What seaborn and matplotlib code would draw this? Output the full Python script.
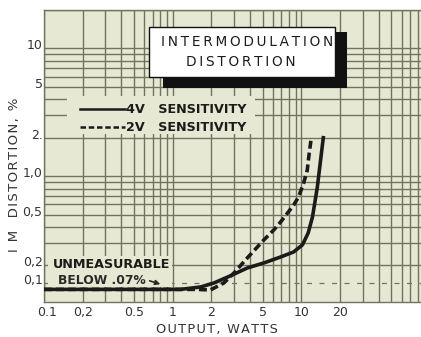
import numpy as np
import pandas as pd
import matplotlib
matplotlib.use("Agg")
import matplotlib.pyplot as plt
import seaborn as sns
from matplotlib.patches import Rectangle
from matplotlib.ticker import NullLocator
from matplotlib.transforms import ScaledTranslation

# Output power (W) against intermodulation distortion (%) for the two sensitivity settings
watts_4v = [0.1, 1.15, 1.65, 2.1, 2.8, 3.8, 5.1, 6.9, 8.7, 10.2, 11.3, 12.2, 13.3, 14.0, 14.8]
imd_4v = [0.07, 0.07, 0.08, 0.10, 0.132, 0.181, 0.209, 0.233, 0.255, 0.29, 0.36, 0.48, 0.82, 1.26, 2.0]
watts_2v = [0.1, 1.5, 1.97, 2.5, 3.0, 3.8, 5.1, 6.1, 6.9, 7.8, 8.7, 9.5, 10.4, 11.1, 11.5, 11.9]
imd_2v = [0.07, 0.07, 0.068, 0.10, 0.149, 0.229, 0.316, 0.379, 0.438, 0.514, 0.593, 0.686, 0.88, 1.11, 1.51, 1.95]

series_labels = ["4V   SENSITIVITY", "2V   SENSITIVITY"]
x_ticks = [0.1, 0.2, 0.5, 1, 2, 5, 10, 20]
x_tick_labels = ["0.1", "0,2", "0.5", "1", "2", "5", "10", "20"]
y_ticks = [0.1, 0.2, 0.5, 1, 2, 5, 10]
y_tick_labels = ["0,1", "0,2", "0,5", "1,0", "2.", "5", "10"]

paper = "#e6e8d3"
rule = "#71735f"
ink = "#1b1b19"
label_ink = "#333330"

HAIR = "\u200a"
THIN = "\u2009"


def tracked(text, sep):
    """Spread capitals apart like hand lettering."""
    return sep.join(text)


# Log paper above 0.2 %; the range below is squeezed into the bottom strip.
_brk_log = np.array([-3.0, np.log10(0.07), -1.0, np.log10(0.2), 3.0])
_brk_pos = np.array([-1.492, -0.8865, -0.8357, np.log10(0.2), 3.0])


def fwd(v):
    v = np.clip(np.asarray(v, dtype=float), 1e-3, 1e3)
    return np.interp(np.log10(v), _brk_log, _brk_pos)


def inv(t):
    return 10 ** np.interp(np.asarray(t, dtype=float), _brk_pos, _brk_log)


fig = plt.figure(figsize=(4.21, 3.37), dpi=100, facecolor="white")
ax = fig.add_axes([44 / 421, 35 / 337, 377 / 421, 292 / 337])
ax.set_facecolor(paper)

ax.set_xscale("log")
ax.set_yscale("function", functions=(fwd, inv))
ax.set_xlim(0.1, 85)
ax.set_ylim(0.035, 20)

# graph-paper rulings
for dec in (0.1, 1, 10):
    for k in range(1, 10):
        ax.axvline(k * dec, color=rule, lw=1.0, zorder=1)
for dec in (0.1, 1, 10):
    for k in range(1, 10):
        v = round(k * dec, 3)
        if 0.2 <= v <= 20:
            ax.axhline(v, color=rule, lw=1.0, zorder=1)
ax.axhline(0.1, color=rule, lw=0.9, ls=(0, (4, 6)), zorder=1)

# blank patches of paper behind the lettering
ax.add_patch(Rectangle((23 / 377, (302 - 134) / 292), (255 - 67) / 377, 38 / 292,
                       transform=ax.transAxes, facecolor=paper, edgecolor="none", zorder=1.5))
ax.add_patch(Rectangle((4 / 377, (302 - 287) / 292), (172 - 48) / 377, 31 / 292,
                       transform=ax.transAxes, facecolor=paper, edgecolor="none", zorder=1.5))

df4 = pd.DataFrame({"Output (W)": watts_4v, "IM distortion (%)": imd_4v})
df2 = pd.DataFrame({"Output (W)": watts_2v, "IM distortion (%)": imd_2v})

n0 = len(ax.lines)
sns.lineplot(data=df4, x="Output (W)", y="IM distortion (%)", color=ink, lw=2.6,
             estimator=None, sort=False, zorder=4, ax=ax)
sns.lineplot(data=df2, x="Output (W)", y="IM distortion (%)", color=ink, lw=2.6,
             linestyle=(0, (2.2, 1.1)), estimator=None, sort=False, zorder=3, ax=ax)
line_4v, line_2v = ax.lines[n0], ax.lines[n0 + 1]

leg = ax.legend([line_4v, line_2v], series_labels, loc="upper left",
                bbox_to_anchor=((80 - 44) / 377, (302 - 103) / 292),
                frameon=False, borderpad=0, borderaxespad=0, handlelength=3.5,
                handletextpad=0.1, labelspacing=0.42,
                prop={"weight": "bold", "size": 9.2})
for h in leg.get_lines():
    h.set_linewidth(1.8)
for t in leg.get_texts():
    t.set_color(ink)

# ticks and labels
ax.set_xticks(x_ticks, x_tick_labels)
ax.set_yticks(y_ticks, y_tick_labels)
ax.xaxis.set_minor_locator(NullLocator())
ax.yaxis.set_minor_locator(NullLocator())
ax.tick_params(length=0, labelsize=9, labelcolor=label_ink)
ax.tick_params(axis="x", pad=3)
ax.tick_params(axis="y", pad=1)
lift = ScaledTranslation(0, 4 / 100, fig.dpi_scale_trans)
for lab in ax.get_yticklabels():
    lab.set_transform(lab.get_transform() + lift)
nudge = ScaledTranslation(3 / 100, 0, fig.dpi_scale_trans)
ax.get_xticklabels()[0].set_transform(ax.get_xticklabels()[0].get_transform() + nudge)

ax.set_xlabel(tracked("OUTPUT, WATTS", HAIR), fontsize=9.3, color=label_ink, va="center")
ax.xaxis.set_label_coords((217 - 44) / 377, (302 - 329) / 292)
ax.set_ylabel(tracked("I M  DISTORTION, %", HAIR), fontsize=9.5, color=label_ink, va="center")
ax.yaxis.set_label_coords((15 - 44) / 377, (302 - 175) / 292)

for side in ("left", "top", "bottom"):
    ax.spines[side].set_color(rule)
    ax.spines[side].set_linewidth(1.0)
ax.spines["right"].set_visible(False)

# title card with its drop shadow
ax.add_patch(Rectangle(((163 - 44) / 377, (302 - 88) / 292), 184 / 377, 56 / 292,
                       transform=ax.transAxes, facecolor="#111111", edgecolor="none",
                       zorder=5, clip_on=False))
ax.add_patch(Rectangle(((149 - 44) / 377, (302 - 77) / 292), 186 / 377, 50 / 292,
                       transform=ax.transAxes, facecolor="white", edgecolor="#111111",
                       lw=1.0, zorder=6, clip_on=False))
ax.text((247 - 44) / 377, (302 - 42) / 292, tracked("INTERMODULATION", THIN),
        transform=ax.transAxes, ha="center", va="center", fontsize=9.8, color=ink, zorder=7)
ax.text((241 - 44) / 377, (302 - 62) / 292, tracked("DISTORTION", THIN),
        transform=ax.transAxes, ha="center", va="center", fontsize=9.8, color=ink, zorder=7)

# note on the flat part of the curves
ax.text((53 - 44) / 377, (302 - 265) / 292, "UNMEASURABLE", transform=ax.transAxes,
        ha="left", va="center", fontsize=9.2, fontweight="bold", color=ink, zorder=5)
ax.text((58 - 44) / 377, (302 - 281) / 292, "BELOW .07%", transform=ax.transAxes,
        ha="left", va="center", fontsize=8.8, fontweight="bold", color="#2a2a28", zorder=5)
ax.annotate("", xy=((163 - 44) / 377, (302 - 285) / 292),
            xytext=((147 - 44) / 377, (302 - 280) / 292),
            xycoords="axes fraction", textcoords="axes fraction",
            arrowprops=dict(arrowstyle="-|>", color="#2a2a28", lw=1.2, mutation_scale=7),
            zorder=5)

fig.savefig("out.png", dpi=100, facecolor="white")
